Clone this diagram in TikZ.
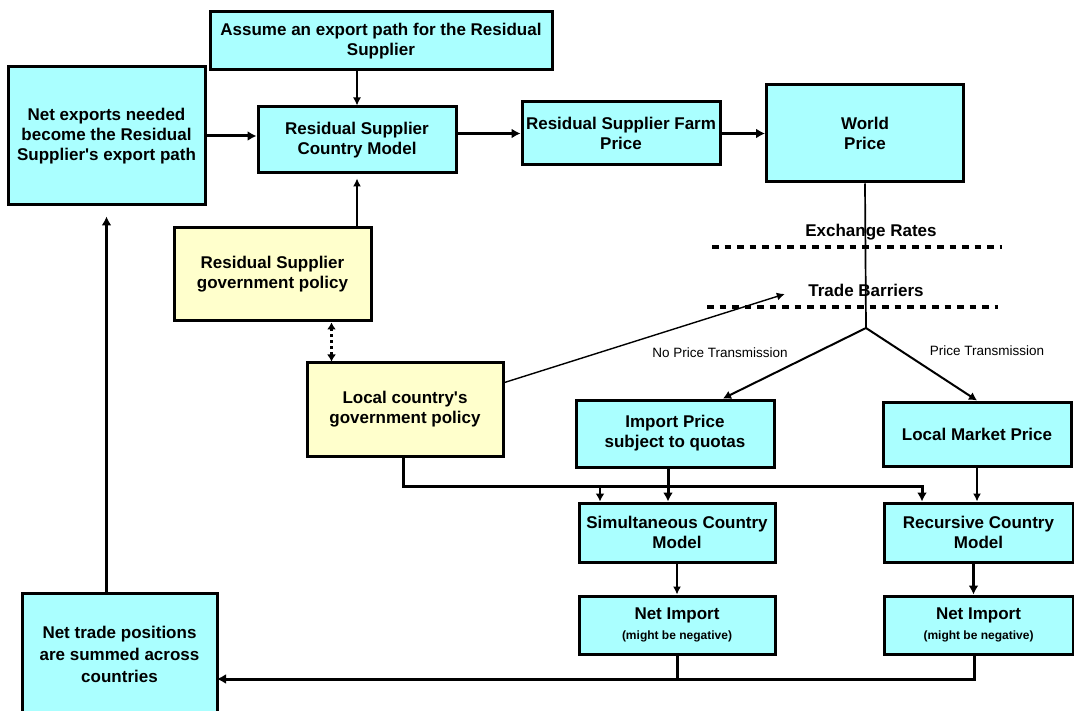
\documentclass[tikz,border=0pt]{standalone}
\usepackage{fontspec}
\setmainfont{Liberation Sans}
\usepackage {tikz}
\usetikzlibrary{arrows.meta}
\definecolor{modelcyan}{HTML}{AAFFFF}
\definecolor{policyyellow}{HTML}{FFFFCC}
\tikzset{
    box/.style = {rectangle,draw,line width=3pt,inner sep=0pt,align=center,font=\fontsize{17}{20}\selectfont\bfseries},
    model/.style = {box,fill=modelcyan},
    policy/.style = {box,fill=policyyellow},
    heading/.style = {font=\fontsize{17}{20}\selectfont\bfseries},
    note/.style = {font=\fontsize{13.5}{16}\selectfont},
    flow/.style = {line width=3pt,-{Latex[length=9pt,width=10pt]}},
    midflow/.style = {line width=2pt,-{Latex[length=8pt,width=9pt]}},
    thinflow/.style = {line width=1.4pt,-{Latex[length=8pt,width=8pt]}},
    dottedlink/.style = {line width=3pt,dash pattern=on 3pt off 3pt,{Latex[length=7pt,width=9pt]}-{Latex[length=7pt,width=9pt]}},
    barrier/.style = {line width=4pt,dash pattern=on 6.5pt off 6pt}}

\begin{document}
\begin{tikzpicture}[x=1pt,y=-1pt]
    \useasboundingbox (0,0) rectangle (1074,711);
    \path (381,41) node[model,minimum width=342pt,minimum height=58pt] (assume) {Assume an export path for the Residual\\Supplier}
        (106.5,136) node[model,minimum width=197pt,minimum height=138pt] (netexp) {Net exports needed\\become the Residual\\Supplier\textquotesingle s export path}
        (357,140) node[model,minimum width=198pt,minimum height=66pt] (rsmodel) {Residual Supplier\\Country Model}
        (621,133.5) node[model,minimum width=198pt,minimum height=63pt] (farm) {Residual Supplier Farm\\Price}
        (865,133.5) node[model,minimum width=197pt,minimum height=97pt] (world) {World\\Price}
        (272.5,274.5) node[policy,minimum width=197pt,minimum height=93pt] (rspolicy) {Residual Supplier\\government policy}
        (405,409.5) node[policy,minimum width=196pt,minimum height=93pt] (localpolicy) {Local country\textquotesingle s\\government policy}
        (675,433.5) node[model,minimum width=198pt,minimum height=67pt] (importprice) {Import Price\\subject to quotas}
        (977,434) node[model,minimum width=188pt,minimum height=64pt] (localmarket) {Local Market Price}
        (677,532.5) node[model,minimum width=196pt,minimum height=59pt] (simmodel) {Simultaneous Country\\Model}
        (978.5,532.5) node[model,minimum width=189pt,minimum height=59pt] (recmodel) {Recursive Country\\Model}
        (677,625) node[model,minimum width=196pt,minimum height=58pt] (simimport) {Net Import\\{\fontsize{12}{14}\selectfont (might be negative)}}
        (978.5,625) node[model,minimum width=189pt,minimum height=58pt] (recimport) {Net Import\\{\fontsize{12}{14}\selectfont (might be negative)}}
        (119.5,654.5) node[model,minimum width=195pt,minimum height=123pt,font=\fontsize{17}{22}\selectfont\bfseries] (nettrade) {Net trade positions\\are summed across\\countries}
        (871,232) node[heading] (exchange) {Exchange Rates}
        (866,290) node[heading] (barriers) {Trade Barriers}
        (720,353) node[note] (nopass) {No Price Transmission}
        (987,351) node[note] (pass) {Price Transmission};
    \coordinate (split) at (866,328);
    \coordinate (bus) at (403,486);
    \coordinate (sumbus) at (217,679);
    % top row
    \draw[thinflow] (assume.south -| rsmodel) -- (rsmodel.north);
    \draw[flow] (netexp.east) -- (netexp.east -| rsmodel.west);
    \draw[flow] (rsmodel.east |- farm) -- (farm.west);
    \draw[flow] (farm.east) -- (world.west);
    \draw[thinflow,shorten >=4pt] (rspolicy.north -| rsmodel) -- (rsmodel.south);
    \draw[dottedlink] ([xshift=26pt]localpolicy.north west) -- ([xshift=26pt]localpolicy.north west |- rspolicy.south);
    % barriers
    \draw[barrier] (712,247) -- (1002,247);
    \draw[barrier] (707,307) -- (998,307);
    \draw[thinflow] ([yshift=27pt]localpolicy.east) -- ([xshift=-20pt,yshift=-4pt]barriers.west);
    \draw[line width=1.7pt] (world.south) -- (split);
    \draw[midflow] (split) -- ([xshift=48pt]importprice.north);
    \draw[midflow] (split) -- (localmarket.north);
    % country models
    \draw[flow] (localpolicy.south -| bus) -- (bus) -| ([xshift=-56.5pt]recmodel.north);
    \draw[midflow] ([xshift=-77pt]simmodel.north |- bus) -- ([xshift=-77pt]simmodel.north);
    \draw[flow] ([xshift=-7pt]importprice.south) -- ([xshift=-7pt]importprice.south |- simmodel.north);
    \draw[thinflow] (localmarket.south) -- (localmarket.south |- recmodel.north);
    \draw[thinflow] (simmodel.south) -- (simimport.north);
    \draw[flow] ([xshift=-5pt]recmodel.south) -- ([xshift=-5pt]recimport.north);
    % summing up
    \draw[line width=3pt] (simimport.south) -- (simimport.south |- sumbus);
    \draw[flow] ([xshift=-4pt]recimport.south) |- (sumbus);
    \draw[flow,shorten >=10pt] (netexp.south |- nettrade.north) -- (netexp.south);
\end{tikzpicture}
\end{document}
